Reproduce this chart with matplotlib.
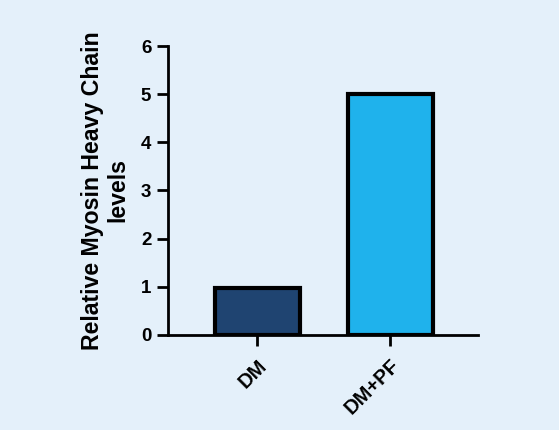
import matplotlib.pyplot as plt

plt.rcParams['font.family'] = ['Liberation Sans', 'DejaVu Sans']
plt.rcParams['font.weight'] = 'bold'

groups = ['DM', 'DM+PF']
levels = [0.97, 5.0]
bar_colors = ['#1f4471', '#1fb2ec']
bg = '#e4f0fa'

fig = plt.figure(figsize=(5.59, 4.3), dpi=100, facecolor=bg)
ax = fig.add_axes([0.3005, 0.221, 0.5545, 0.672], facecolor=bg)

ax.bar(range(len(groups)), levels, width=0.64, color=bar_colors,
       edgecolor='black', linewidth=3, zorder=3)

ax.set_xlim(-0.67, 1.66)
ax.set_ylim(0, 6)
ax.set_yticks(range(0, 7))
ax.set_xticks(range(len(groups)))
ax.set_xticklabels(groups, rotation=45, ha='right', rotation_mode='anchor')

for s in ['top', 'right']:
    ax.spines[s].set_visible(False)
for s in ['left', 'bottom']:
    ax.spines[s].set_linewidth(2)
ax.tick_params(width=2, length=8, labelsize=13.5, pad=4)
ax.tick_params(axis='x', labelsize=14.5, pad=7)
for lbl in ax.get_xticklabels() + ax.get_yticklabels():
    lbl.set_fontweight('bold')

ax.set_ylabel('Relative Myosin Heavy Chain\nlevels', fontsize=16.7,
              fontweight='bold', labelpad=8, linespacing=1.15)

fig.savefig('out.png', dpi=100, facecolor=bg)
